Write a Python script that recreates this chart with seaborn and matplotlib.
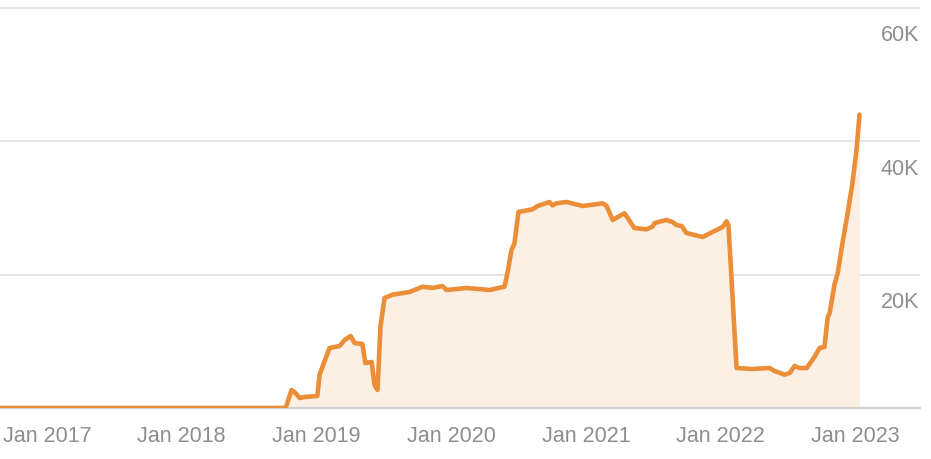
import pandas as pd
import matplotlib
matplotlib.use('Agg')
import matplotlib.pyplot as plt
import matplotlib.dates as mdates
import matplotlib.transforms as mtransforms
import seaborn as sns

# values (traffic, in units)
dates = ['2016-08-27', '2018-10-10', '2018-10-26', '2018-11-03', '2018-11-17', '2018-11-30',
         '2019-01-04', '2019-01-10', '2019-01-18', '2019-02-06', '2019-03-05', '2019-03-19',
         '2019-04-04', '2019-04-15', '2019-05-06', '2019-05-14', '2019-05-31', '2019-06-08',
         '2019-06-16', '2019-06-24', '2019-07-05', '2019-07-27', '2019-09-11', '2019-10-16',
         '2019-11-12', '2019-12-09', '2019-12-20', '2020-02-12', '2020-04-15', '2020-05-25',
         '2020-06-02', '2020-06-13', '2020-06-21', '2020-07-02', '2020-08-09', '2020-08-23',
         '2020-09-24', '2020-10-02', '2020-10-13', '2020-11-09', '2020-12-23', '2021-02-15',
         '2021-02-26', '2021-03-14', '2021-04-15', '2021-04-24', '2021-05-12', '2021-06-14',
         '2021-06-30', '2021-07-06', '2021-08-07', '2021-08-23', '2021-09-03', '2021-09-17',
         '2021-09-30', '2021-11-13', '2022-01-06', '2022-01-17', '2022-01-22', '2022-02-13',
         '2022-03-28', '2022-05-13', '2022-05-27', '2022-06-23', '2022-07-07', '2022-07-20',
         '2022-08-03', '2022-08-22', '2022-09-12', '2022-09-26', '2022-10-09', '2022-10-18',
         '2022-10-23', '2022-11-05', '2022-11-14', '2022-11-27', '2022-12-11', '2022-12-24',
         '2023-01-04', '2023-01-12']
traffic = [0, 0, 2700, 2400, 1500, 1650,
           1800, 5000, 6200, 9000, 9300, 10200,
           10800, 9750, 9600, 6750, 6900, 3450,
           2700, 12200, 16500, 17000, 17400, 18200,
           18000, 18300, 17700, 18000, 17700, 18200,
           20200, 23700, 24700, 29400, 29800, 30300,
           30900, 30400, 30700, 30900, 30300, 30700,
           30300, 28200, 29200, 28500, 27000, 26800,
           27200, 27750, 28200, 27900, 27450, 27300,
           26250, 25650, 27150, 28000, 27400, 6000,
           5850, 6000, 5550, 5000, 5250, 6300,
           6000, 6000, 7650, 9000, 9150, 13650,
           14200, 18450, 20250, 24750, 29250, 33750,
           38700, 44000]

y_ticks = [20000, 40000, 60000]
y_labels = ['20K', '40K', '60K']

df = pd.DataFrame({'date': pd.to_datetime(dates), 'traffic': traffic})

sns.set_style('white')
plt.rcParams['font.family'] = ['Liberation Sans', 'DejaVu Sans']

line_color = '#ec8d38'
grey_text = '#8e8e8e'

fig = plt.figure(figsize=(9.31, 4.59), dpi=100)
ax = fig.add_axes([0, 51 / 459, 920 / 931, 406.7 / 459])

ax.fill_between(df['date'], df['traffic'], 0, color='#fcefe4', lw=0, zorder=1)
sns.lineplot(data=df, x='date', y='traffic', ax=ax, color=line_color, lw=3.3, zorder=3,
             solid_joinstyle='round', solid_capstyle='round')

ax.set_xlim(pd.Timestamp('2016-08-27'), pd.Timestamp('2023-06-25'))
ax.set_ylim(0, 61000)

# horizontal grid
for v in y_ticks:
    ax.axhline(v, color='#e3e3e3', lw=1.3, zorder=0)
ax.set_yticks([])

# y labels sit inside the plot, right side, below each gridline
trans = mtransforms.blended_transform_factory(ax.transAxes, ax.transData)
trans = mtransforms.offset_copy(trans, fig=fig, x=-1, y=-28, units='dots')
for v, lab in zip(y_ticks, y_labels):
    ax.text(1.0, v, lab, transform=trans, ha='right', va='center',
            fontsize=15.5, color=grey_text)

ax.xaxis.set_major_locator(mdates.YearLocator())
ax.xaxis.set_major_formatter(mdates.DateFormatter('Jan %Y'))
ax.tick_params(axis='x', direction='in', length=8.5, width=1, color='#dddddd',
               labelsize=15.5, labelcolor=grey_text, pad=13)

for s in ['top', 'left', 'right']:
    ax.spines[s].set_visible(False)
ax.spines['bottom'].set_color('#d0d0d0')
ax.spines['bottom'].set_linewidth(1.6)
ax.set_xlabel('')
ax.set_ylabel('')

fig.savefig('out.png', dpi=100)
